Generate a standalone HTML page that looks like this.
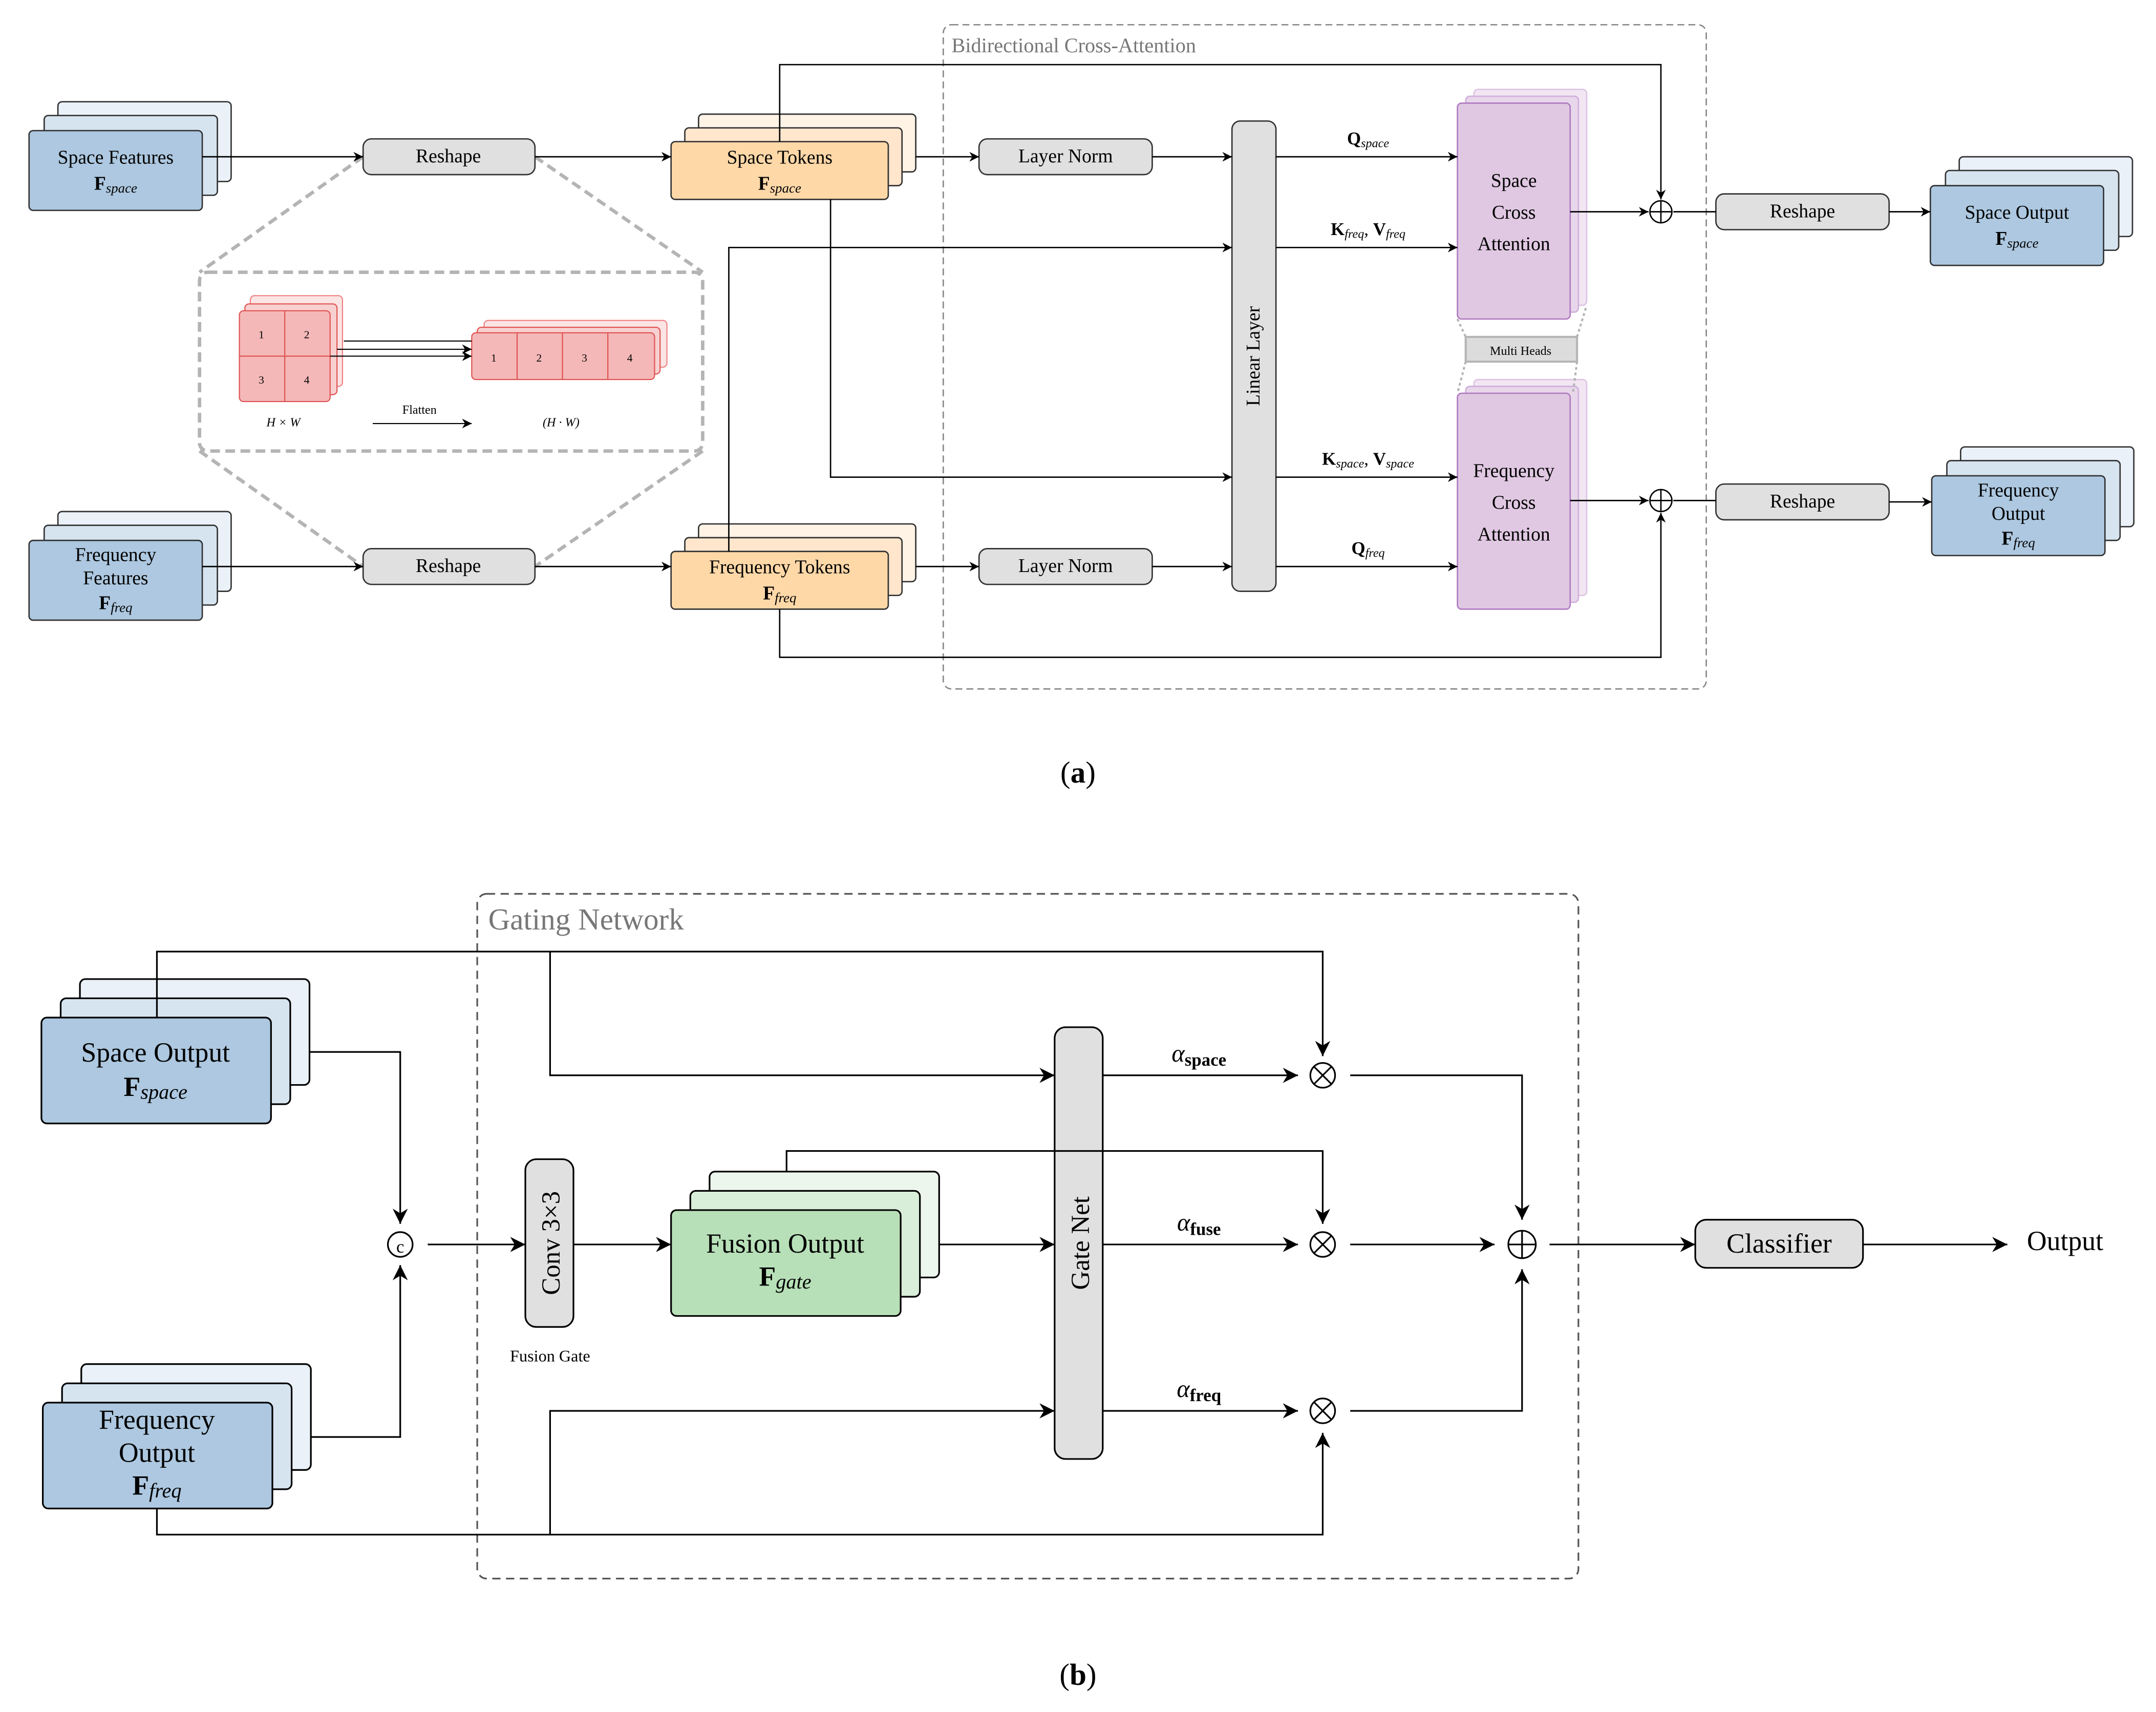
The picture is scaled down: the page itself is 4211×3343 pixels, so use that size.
<!DOCTYPE html>
<html><head><meta charset="utf-8"><style>html,body{margin:0;padding:0;background:#fff}svg{display:block}text{font-family:"Liberation Serif",serif;fill:#000}</style></head>
<body>
<svg width="4211" height="3343" viewBox="0 0 1568 1245" xmlns="http://www.w3.org/2000/svg">
<defs>
<marker id="a" viewBox="0 0 10 10" refX="10" refY="5" markerWidth="7" markerHeight="7" orient="auto" markerUnits="userSpaceOnUse"><path d="M0,0 L10,5 L0,10 L3,5 z" fill="#000"/></marker>
<marker id="b" viewBox="0 0 10 10" refX="10" refY="5" markerWidth="11" markerHeight="11" orient="auto" markerUnits="userSpaceOnUse"><path d="M0,0 L10,5 L0,10 L3,5 z" fill="#000"/></marker>
</defs>
<g stroke="#000" stroke-width="1" fill="none">
<!-- ===== (a) ===== -->
<rect x="686" y="18" width="555" height="483" rx="6" stroke="#888" stroke-dasharray="5,3"/>
<!-- zoom inset -->
<g stroke="#b4b4b4" stroke-width="2.5" stroke-dasharray="7,4">
<rect x="145" y="198" width="366" height="130" rx="6"/>
<path d="M264,114 L145,198 M389,114 L511,198 M145,328 L264,412 M511,328 L389,412"/>
</g>
</g>
<!-- Space Features -->
<g stroke="#333" stroke-width="1">
<rect x="42" y="74" width="126" height="58" rx="3" fill="#eaf1f8"/>
<rect x="32" y="84" width="126" height="58" rx="3" fill="#d6e4f0"/>
<rect x="21" y="95" width="126" height="58" rx="3" fill="#adc8e0"/>
<rect x="42" y="372" width="126" height="58" rx="3" fill="#eaf1f8"/>
<rect x="32" y="382" width="126" height="58" rx="3" fill="#d6e4f0"/>
<rect x="21" y="393" width="126" height="58" rx="3" fill="#adc8e0"/>
<rect x="264" y="101" width="125" height="26" rx="6" fill="#e0e0e0"/>
<rect x="264" y="399" width="125" height="26" rx="6" fill="#e0e0e0"/>
<rect x="508" y="83" width="158" height="42" rx="3" fill="#fff3e6"/>
<rect x="498" y="93" width="158" height="42" rx="3" fill="#ffe6cc"/>
<rect x="488" y="103" width="158" height="42" rx="3" fill="#ffd8a8"/>
<rect x="508" y="381" width="158" height="42" rx="3" fill="#fff3e6"/>
<rect x="498" y="391" width="158" height="42" rx="3" fill="#ffe6cc"/>
<rect x="488" y="401" width="158" height="42" rx="3" fill="#ffd8a8"/>
<rect x="712" y="101" width="126" height="26" rx="6" fill="#e0e0e0"/>
<rect x="712" y="399" width="126" height="26" rx="6" fill="#e0e0e0"/>
<rect x="896" y="88" width="32" height="342" rx="6" fill="#e0e0e0"/>
<rect x="1248" y="141" width="126" height="26" rx="6" fill="#e0e0e0"/>
<rect x="1248" y="352" width="126" height="26" rx="6" fill="#e0e0e0"/>
<rect x="1425" y="114" width="126" height="58" rx="3" fill="#eaf1f8"/>
<rect x="1415" y="124" width="126" height="58" rx="3" fill="#d6e4f0"/>
<rect x="1404" y="135" width="126" height="58" rx="3" fill="#adc8e0"/>
<rect x="1426" y="325" width="126" height="58" rx="3" fill="#eaf1f8"/>
<rect x="1416" y="335" width="126" height="58" rx="3" fill="#d6e4f0"/>
<rect x="1405" y="346" width="126" height="58" rx="3" fill="#adc8e0"/>
</g>
<g stroke="#b07cc0" stroke-width="1">
<rect x="1072" y="65" width="82" height="157" rx="3" fill="#f2e6f2" stroke="#dcc4e4"/>
<rect x="1066" y="70" width="82" height="157" rx="3" fill="#e8d6ea" stroke="#d0b0dc"/>
<rect x="1060" y="75" width="82" height="157" rx="3" fill="#e0c8e2"/>
<rect x="1072" y="276" width="82" height="157" rx="3" fill="#f2e6f2" stroke="#dcc4e4"/>
<rect x="1066" y="281" width="82" height="157" rx="3" fill="#e8d6ea" stroke="#d0b0dc"/>
<rect x="1060" y="286" width="82" height="157" rx="3" fill="#e0c8e2"/>
</g>
<g stroke="#b4b4b4" stroke-width="1.5" stroke-dasharray="2,2" fill="none">
<path d="M1060,232 L1066,245 M1147,245 L1154,222 M1066,263 L1060,286 M1147,263 L1144,286"/>
</g>
<rect x="1066" y="245" width="81" height="18" fill="#dcdcdc" stroke="#b4b4b4" stroke-width="1.5"/>
<!-- inset cells -->
<g stroke="#e05050" stroke-width="0.8">
<rect x="182" y="215" width="67" height="66" rx="3" fill="#fbe4e4" stroke="#f08080"/>
<rect x="178" y="221" width="67" height="66" rx="3" fill="#f8d0d0"/>
<rect x="174" y="226" width="66" height="66" rx="3" fill="#f4b8b8"/>
<path d="M207,226 V292 M174,259 H240"/>
<rect x="352" y="233" width="133" height="34" rx="3" fill="#fbe4e4" stroke="#f08080"/>
<rect x="347" y="238" width="133" height="34" rx="3" fill="#f8d0d0"/>
<rect x="343" y="242" width="133" height="34" rx="3" fill="#f4b8b8"/>
<path d="M376,242 V276 M409,242 V276 M442,242 V276"/>
</g>
<g stroke="#000" stroke-width="0.8" fill="none">
<path d="M250,248 H343 M245,254 H343" marker-end="url(#a)"/>
<path d="M240,259 H343" marker-end="url(#a)"/>
<path d="M271,308 H343" marker-end="url(#a)"/>
</g>
<g font-size="8" text-anchor="middle">
<text x="190" y="246">1</text><text x="223" y="246">2</text><text x="190" y="279">3</text><text x="223" y="279">4</text>
<text x="359" y="263">1</text><text x="392" y="263">2</text><text x="425" y="263">3</text><text x="458" y="263">4</text>
<text x="305" y="301" font-size="9">Flatten</text>
<text x="206" y="310" font-style="italic" font-size="9">H × W</text>
<text x="408" y="310" font-style="italic" font-size="9">(H · W)</text>
</g>
<!-- a connectors -->
<g stroke="#000" stroke-width="1" fill="none" marker-end="url(#a)">
<path d="M147,114 H264"/><path d="M147,412 H264"/>
<path d="M389,114 H488"/><path d="M389,412 H488"/>
<path d="M666,114 H712"/><path d="M666,412 H712"/>
<path d="M838,114 H896"/><path d="M838,412 H896"/>
<path d="M604,145 V347 H896"/>
<path d="M530,401 V180 H896"/>
<path d="M928,114 H1060"/><path d="M928,180 H1060"/><path d="M928,347 H1060"/><path d="M928,412 H1060"/>
<path d="M1142,154 H1199"/><path d="M1142,364 H1199"/>
<path d="M567,103 V47 H1208 V145"/>
<path d="M567,443 V478 H1208 V373"/>
<path d="M1374,154 H1404"/><path d="M1374,365 H1405"/>
</g>
<g stroke="#000" stroke-width="1" fill="none">
<path d="M1217,154 H1248 M1217,364 H1248"/>
<circle cx="1208" cy="154" r="8"/><path d="M1200,154 H1216 M1208,146 V162"/>
<circle cx="1208" cy="364" r="8"/><path d="M1200,364 H1216 M1208,356 V372"/>
</g>
<g font-size="14" text-anchor="middle">
<text x="84" y="119">Space Features</text>
<text x="84" y="138"><tspan font-weight="bold">F</tspan><tspan font-style="italic" font-size="10" dy="2">space</tspan></text>
<text x="84" y="408">Frequency</text><text x="84" y="425">Features</text>
<text x="84" y="443"><tspan font-weight="bold">F</tspan><tspan font-style="italic" font-size="10" dy="2">freq</tspan></text>
<text x="326" y="118">Reshape</text><text x="326" y="416">Reshape</text>
<text x="567" y="119">Space Tokens</text>
<text x="567" y="138"><tspan font-weight="bold">F</tspan><tspan font-style="italic" font-size="10" dy="2">space</tspan></text>
<text x="567" y="417">Frequency Tokens</text>
<text x="567" y="436"><tspan font-weight="bold">F</tspan><tspan font-style="italic" font-size="10" dy="2">freq</tspan></text>
<text x="775" y="118">Layer Norm</text><text x="775" y="416">Layer Norm</text>
<text transform="translate(916,259) rotate(-90)">Linear Layer</text>
<text x="1101" y="136">Space</text><text x="1101" y="159">Cross</text><text x="1101" y="182">Attention</text>
<text x="1101" y="347">Frequency</text><text x="1101" y="370">Cross</text><text x="1101" y="393">Attention</text>
<text x="1106" y="258" font-size="9">Multi Heads</text>
<text x="1311" y="158">Reshape</text><text x="1311" y="369">Reshape</text>
<text x="1467" y="159">Space Output</text>
<text x="1467" y="178"><tspan font-weight="bold">F</tspan><tspan font-style="italic" font-size="10" dy="2">space</tspan></text>
<text x="1468" y="361">Frequency</text><text x="1468" y="378">Output</text>
<text x="1468" y="396"><tspan font-weight="bold">F</tspan><tspan font-style="italic" font-size="10" dy="2">freq</tspan></text>
<text x="995" y="105" font-size="13"><tspan font-weight="bold">Q</tspan><tspan font-style="italic" font-size="9" dy="2">space</tspan></text>
<text x="995" y="171" font-size="13"><tspan font-weight="bold">K</tspan><tspan font-style="italic" font-size="9" dy="2">freq</tspan><tspan dy="-2">, </tspan><tspan font-weight="bold">V</tspan><tspan font-style="italic" font-size="9" dy="2">freq</tspan></text>
<text x="995" y="338" font-size="13"><tspan font-weight="bold">K</tspan><tspan font-style="italic" font-size="9" dy="2">space</tspan><tspan dy="-2">, </tspan><tspan font-weight="bold">V</tspan><tspan font-style="italic" font-size="9" dy="2">space</tspan></text>
<text x="995" y="403" font-size="13"><tspan font-weight="bold">Q</tspan><tspan font-style="italic" font-size="9" dy="2">freq</tspan></text>
</g>
<text x="692" y="38" font-size="15" fill="#777" style="fill:#777">Bidirectional Cross-Attention</text>
<text x="784" y="569" font-size="22" text-anchor="middle">(<tspan font-weight="bold">a</tspan>)</text>

<!-- ===== (b) ===== -->
<rect x="347" y="650" width="801" height="498" rx="7" fill="none" stroke="#555" stroke-dasharray="6,4" stroke-width="1.2"/>
<text x="355" y="676" font-size="22" style="fill:#777">Gating Network</text>
<g stroke="#000" stroke-width="1.2">
<rect x="58" y="712" width="167" height="77" rx="4" fill="#eaf1f8"/>
<rect x="44" y="726" width="167" height="77" rx="4" fill="#d6e4f0"/>
<rect x="30" y="740" width="167" height="77" rx="4" fill="#adc8e0"/>
<rect x="59" y="992" width="167" height="77" rx="4" fill="#eaf1f8"/>
<rect x="45" y="1006" width="167" height="77" rx="4" fill="#d6e4f0"/>
<rect x="31" y="1020" width="167" height="77" rx="4" fill="#adc8e0"/>
<rect x="382" y="843" width="35" height="122" rx="8" fill="#e0e0e0"/>
<rect x="516" y="852" width="167" height="77" rx="4" fill="#edf6ed"/>
<rect x="502" y="866" width="167" height="77" rx="4" fill="#d8eed8"/>
<rect x="488" y="880" width="167" height="77" rx="4" fill="#b8e0b8"/>
<rect x="767" y="747" width="35" height="314" rx="8" fill="#e0e0e0"/>
<rect x="1233" y="887" width="122" height="35" rx="8" fill="#e0e0e0"/>
</g>
<g stroke="#000" stroke-width="1.2" fill="none" marker-end="url(#b)">
<path d="M225,765 H291 V890"/>
<path d="M226,1045 H291 V920"/>
<path d="M311,905 H382"/>
<path d="M417,905 H488"/>
<path d="M683,905 H767"/>
<path d="M114,740 V692 H962 V768"/>
<path d="M400,692 V782 H767"/>
<path d="M572,852 V837 H962 V890"/>
<path d="M114,1097 V1116 H962 V1042"/>
<path d="M400,1116 V1026 H767"/>
<path d="M802,782 H944"/><path d="M802,905 H944"/><path d="M802,1026 H944"/>
<path d="M982,782 H1107 V887"/>
<path d="M982,905 H1087"/>
<path d="M982,1026 H1107 V923"/>
<path d="M1127,905 H1233"/>
<path d="M1355,905 H1460"/>
</g>
<g stroke="#000" stroke-width="1.2" fill="none">
<circle cx="291" cy="905" r="9"/>
<circle cx="962" cy="782" r="9"/><path d="M955.6,775.6 L968.4,788.4 M968.4,775.6 L955.6,788.4"/>
<circle cx="962" cy="905" r="9"/><path d="M955.6,898.6 L968.4,911.4 M968.4,898.6 L955.6,911.4"/>
<circle cx="962" cy="1026" r="9"/><path d="M955.6,1019.6 L968.4,1032.4 M968.4,1019.6 L955.6,1032.4"/>
<circle cx="1107" cy="905" r="10"/><path d="M1097,905 H1117 M1107,895 V915"/>
</g>
<g font-size="20" text-anchor="middle">
<text x="291" y="911" font-size="13">c</text>
<text x="113" y="772">Space Output</text>
<text x="113" y="797"><tspan font-weight="bold">F</tspan><tspan font-style="italic" font-size="15" dy="2">space</tspan></text>
<text x="114" y="1039">Frequency</text><text x="114" y="1063">Output</text>
<text x="114" y="1087"><tspan font-weight="bold">F</tspan><tspan font-style="italic" font-size="15" dy="2">freq</tspan></text>
<text transform="translate(407,904) rotate(-90)" font-size="19">Conv 3×3</text>
<text x="400" y="990" font-size="12">Fusion Gate</text>
<text x="571" y="911">Fusion Output</text>
<text x="571" y="935"><tspan font-weight="bold">F</tspan><tspan font-style="italic" font-size="15" dy="2">gate</tspan></text>
<text transform="translate(792,904) rotate(-90)" font-size="19">Gate Net</text>
<text x="872" y="772" font-size="18"><tspan font-style="italic">α</tspan><tspan font-weight="bold" font-size="13" dy="3">space</tspan></text>
<text x="872" y="895" font-size="18"><tspan font-style="italic">α</tspan><tspan font-weight="bold" font-size="13" dy="3">fuse</tspan></text>
<text x="872" y="1016" font-size="18"><tspan font-style="italic">α</tspan><tspan font-weight="bold" font-size="13" dy="3">freq</tspan></text>
<text x="1294" y="911">Classifier</text>
<text x="1502" y="909">Output</text>
</g>
<text x="784" y="1225" font-size="22" text-anchor="middle">(<tspan font-weight="bold">b</tspan>)</text>
</svg>
</body></html>
